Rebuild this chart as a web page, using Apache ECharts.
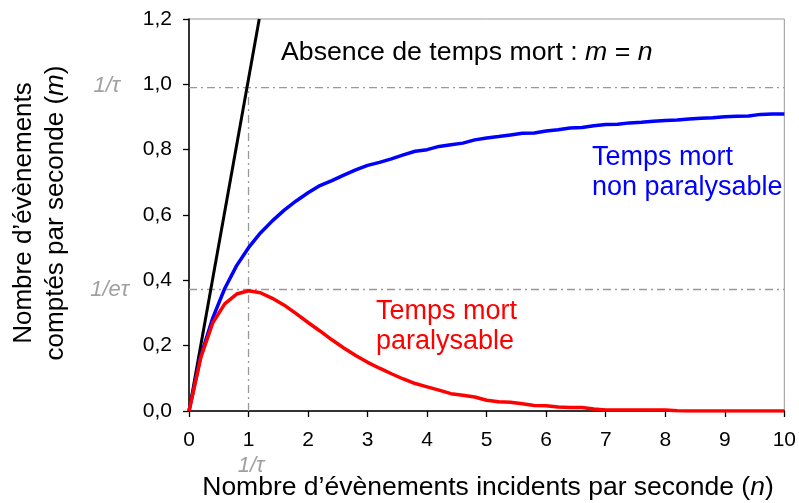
<!DOCTYPE html>
<html>
<head>
<meta charset="utf-8">
<script src="https://cdn.jsdelivr.net/npm/echarts@6/dist/echarts.min.js"></script>
<style>
  html, body { margin: 0; padding: 0; background: #fff; }
  #chart { width: 799px; height: 503px; }
</style>
</head>
<body>
<div id="chart"></div>
<script>
// n values (incident events per second), step 0.2
const nValues = [0, 0.2, 0.4, 0.6, 0.8, 1.0, 1.2, 1.4, 1.6, 1.8, 2.0, 2.2, 2.4, 2.6, 2.8, 3.0, 3.2, 3.4, 3.6, 3.8,
  4.0, 4.2, 4.4, 4.6, 4.8, 5.0, 5.2, 5.4, 5.6, 5.8, 6.0, 6.2, 6.4, 6.6, 6.8, 7.0, 7.2, 7.4, 7.6, 7.8,
  8.0, 8.2, 8.4, 8.6, 8.8, 9.0, 9.2, 9.4, 9.6, 9.8, 10.0];

// temps mort non paralysable
const nonParalysable = [0, 0.17, 0.285, 0.375, 0.445, 0.50, 0.545, 0.582, 0.615, 0.643, 0.668, 0.690, 0.705, 0.722, 0.738, 0.752, 0.761, 0.772, 0.784, 0.795,
  0.800, 0.810, 0.815, 0.820, 0.830, 0.836, 0.840, 0.845, 0.850, 0.851, 0.857, 0.861, 0.866, 0.868, 0.873, 0.877, 0.878, 0.882, 0.884, 0.887,
  0.889, 0.891, 0.894, 0.896, 0.898, 0.901, 0.902, 0.903, 0.908, 0.909, 0.909];

// temps mort paralysable
const paralysable = [0, 0.165, 0.27, 0.328, 0.358, 0.368, 0.362, 0.345, 0.324, 0.298, 0.271, 0.245, 0.218, 0.193, 0.170, 0.149, 0.131, 0.114, 0.098, 0.084,
  0.074, 0.064, 0.053, 0.048, 0.043, 0.033, 0.028, 0.027, 0.022, 0.017, 0.016, 0.012, 0.011, 0.011, 0.006, 0.003, 0.003, 0.003, 0.003, 0.003,
  0.003, 0.001, 0, 0, 0, 0, 0, 0, 0, 0, 0];

// absence de temps mort : m = n
const sansTempsMort = [[0, 0], [1.18, 1.2]];

// reference levels
const invTau = 0.99;
const invETau = 0.372;

const FONT = '"Liberation Sans", Arial, sans-serif';
const GREY = '#a0a0a0';

const chart = echarts.init(document.getElementById('chart'));

const pair = (ys) => nValues.map((x, i) => [x, ys[i]]);

const dashDot = { color: '#999', width: 1.3, type: [8, 4, 2, 4] };

const option = {
  animation: false,
  grid: {
    left: 189, right: 12, top: 19, bottom: 92,
    show: true, borderColor: '#999', borderWidth: 1
  },
  xAxis: {
    type: 'value', min: 0, max: 10, interval: 1,
    axisLine: { lineStyle: { color: '#000', width: 1.5 } },
    axisTick: { show: true, length: 6, lineStyle: { color: '#000', width: 1.3 } },
    axisLabel: { color: '#000', fontFamily: FONT, fontSize: 21, margin: 19 },
    splitLine: { show: false }
  },
  yAxis: {
    type: 'value', min: 0, max: 1.2, interval: 0.2,
    axisLine: { show: true, lineStyle: { color: '#000', width: 1.5 } },
    axisTick: { show: true, length: 6, lineStyle: { color: '#000', width: 1.3 } },
    axisLabel: {
      color: '#000', fontFamily: FONT, fontSize: 21, margin: 17,
      formatter: v => v.toFixed(1).replace('.', ',')
    },
    splitLine: { show: false }
  },
  series: [
    {
      type: 'line', data: [[0, invTau], [10, invTau]],
      showSymbol: false, lineStyle: dashDot, silent: true, z: 1
    },
    {
      type: 'line', data: [[0, invETau], [10, invETau]],
      showSymbol: false, lineStyle: dashDot, silent: true, z: 1
    },
    {
      type: 'line', data: [[1, 0], [1, invTau]],
      showSymbol: false, lineStyle: dashDot, silent: true, z: 1
    },
    {
      name: 'm = n', type: 'line', data: sansTempsMort,
      showSymbol: false, clip: true,
      lineStyle: { color: '#000', width: 3 }, z: 3
    },
    {
      name: 'non paralysable', type: 'line', data: pair(nonParalysable),
      showSymbol: false, lineStyle: { color: '#0000ff', width: 3.5 }, z: 4
    },
    {
      name: 'paralysable', type: 'line', data: pair(paralysable),
      showSymbol: false, lineStyle: { color: '#ff0000', width: 3.5 }, z: 5
    }
  ],
  graphic: [
    {
      type: 'text', left: 281, top: 39,
      style: {
        text: 'Absence de temps mort : {i|m} = {i|n}',
        font: '26.7px ' + FONT, fill: '#000',
        rich: { i: { fontStyle: 'italic', fontSize: 26.7, fontFamily: FONT, fill: '#000' } }
      }
    },
    {
      type: 'text', left: 592, top: 143,
      style: { text: 'Temps mort\nnon paralysable', font: '27px ' + FONT, fill: '#0000ff', lineHeight: 30 }
    },
    {
      type: 'text', left: 376, top: 297,
      style: { text: 'Temps mort\nparalysable', font: '27px ' + FONT, fill: '#ff0000', lineHeight: 30 }
    },
    {
      type: 'text', x: 40, y: 213, rotation: Math.PI / 2,
      style: {
        text: 'Nombre d\u2019évènements\ncomptés par seconde ({i|m})',
        font: '26px ' + FONT, fill: '#000', align: 'center', verticalAlign: 'middle', lineHeight: 32,
        rich: { i: { fontStyle: 'italic', fontSize: 26, fontFamily: FONT, fill: '#000' } }
      }
    },
    {
      type: 'text', x: 488, y: 488,
      style: {
        text: 'Nombre d\u2019évènements incidents par seconde ({i|n})',
        font: '26.5px ' + FONT, fill: '#000', align: 'center', verticalAlign: 'middle',
        rich: { i: { fontStyle: 'italic', fontSize: 26.5, fontFamily: FONT, fill: '#000' } }
      }
    },
    {
      type: 'text', x: 120, y: 86,
      style: { text: '1/τ', font: 'italic 22px ' + FONT, fill: GREY, align: 'right', verticalAlign: 'middle' }
    },
    {
      type: 'text', x: 129, y: 290,
      style: { text: '1/eτ', font: 'italic 22px ' + FONT, fill: GREY, align: 'right', verticalAlign: 'middle' }
    },
    {
      type: 'text', x: 251, y: 466,
      style: { text: '1/τ', font: 'italic 22px ' + FONT, fill: GREY, align: 'center', verticalAlign: 'middle' }
    }
  ]
};

chart.setOption(option);
</script>
</body>
</html>
